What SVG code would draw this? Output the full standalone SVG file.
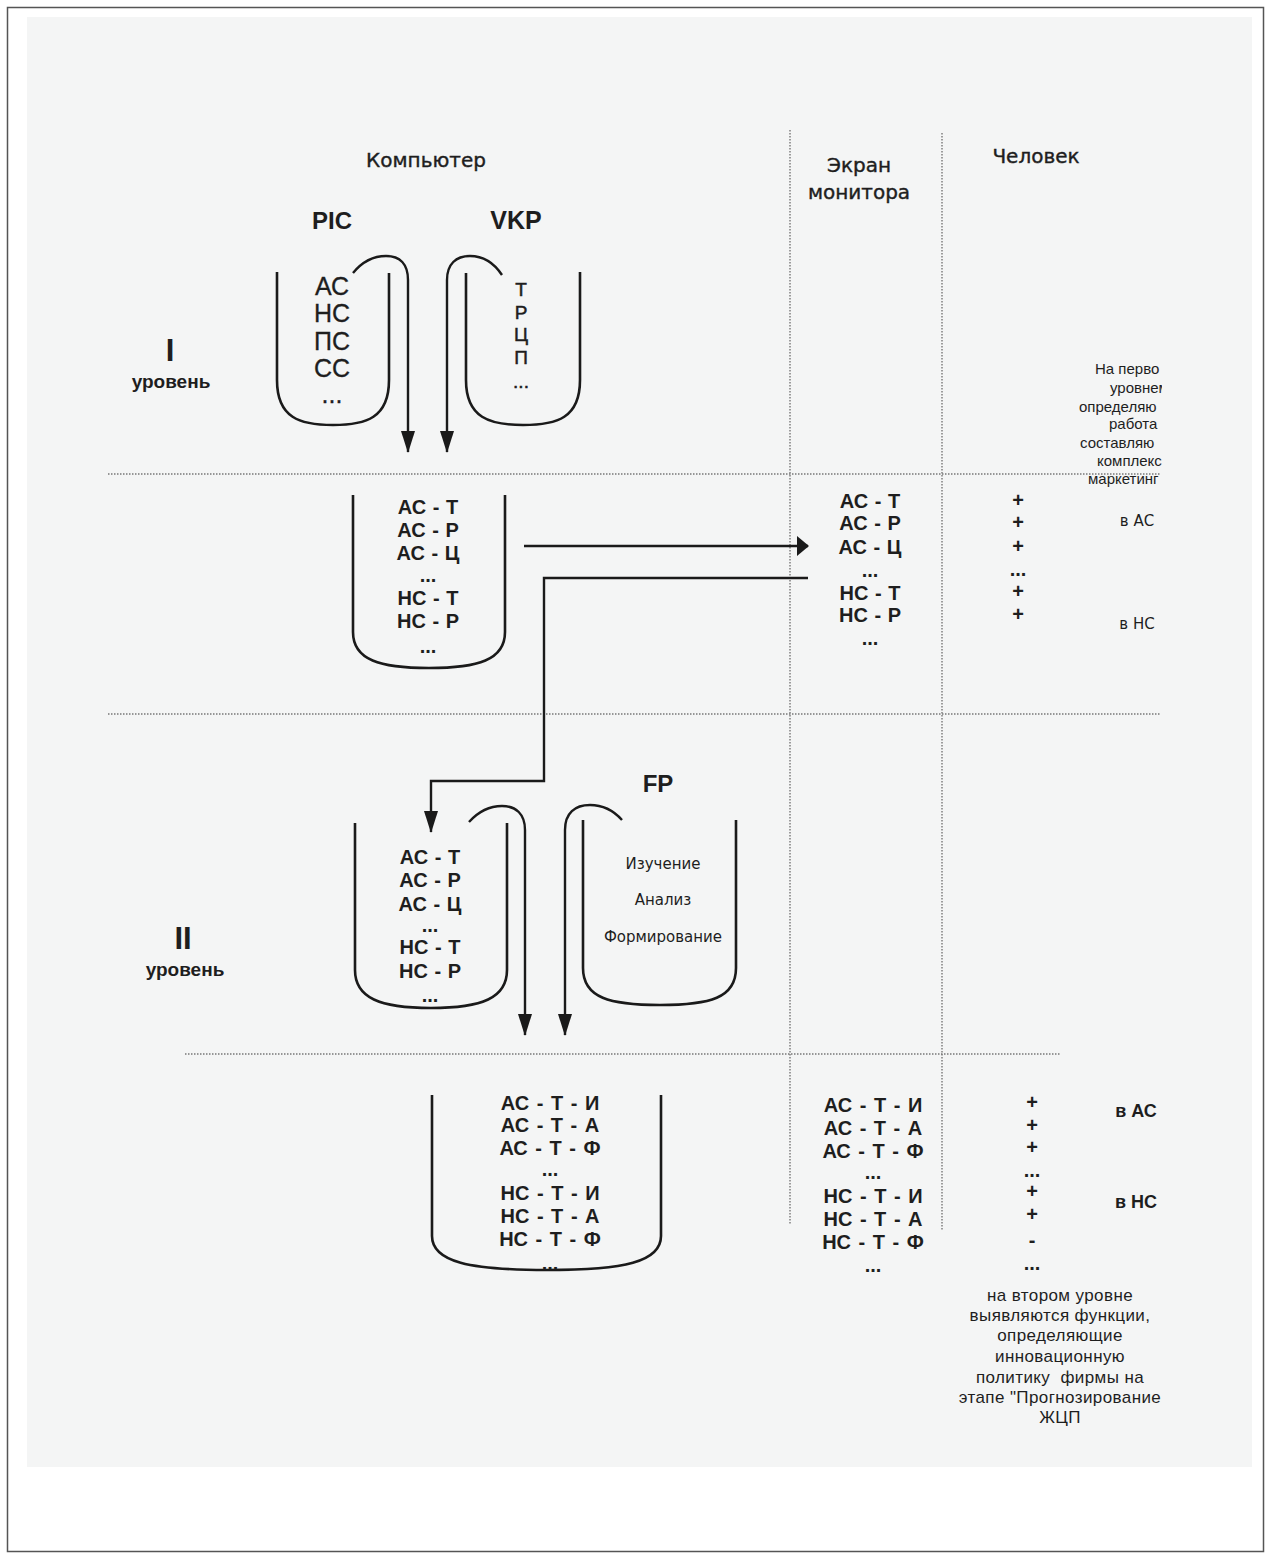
<svg xmlns="http://www.w3.org/2000/svg" width="1271" height="1559" viewBox="0 0 1271 1559">
<defs>
<style>
text{font-family:"Liberation Sans",Arial,sans-serif;fill:#1e1e1e}
.b{font-weight:bold}
.c{text-anchor:middle}
.h{font-family:"DejaVu Sans","Liberation Sans",sans-serif;font-size:20px;stroke:#1e1e1e;stroke-width:0.4}
.dv{font-family:"DejaVu Sans","Liberation Sans",sans-serif}
.cont{fill:none;stroke:#1a1a1a;stroke-width:2.6}
.con{fill:none;stroke:#1a1a1a;stroke-width:2.4}
.dot{fill:none;stroke:#777;stroke-width:1.4;stroke-dasharray:1.5 1.5}
.t20{font-size:25px;stroke:#1e1e1e;stroke-width:0.3}
.tv{font-size:19px;stroke:#1e1e1e;stroke-width:0.5}
.t19{font-size:20px;font-weight:bold;word-spacing:1px}
.t21{font-size:20px;font-weight:bold;word-spacing:2px}
.t15{font-family:"DejaVu Sans","Liberation Sans",sans-serif;font-size:15px}
</style>
<marker id="ah" viewBox="0 0 12 20" refX="11" refY="10" markerWidth="12" markerHeight="20" markerUnits="userSpaceOnUse" orient="auto-start-reverse">
<path d="M0,0 L12,10 L0,20 Z" fill="#1a1a1a"/>
</marker>
<marker id="ad" viewBox="0 0 14 22" refX="7" refY="21" markerWidth="14" markerHeight="22" markerUnits="userSpaceOnUse" orient="0">
<path d="M0,0 L14,0 L7,22 Z" fill="#1a1a1a"/>
</marker>
<clipPath id="clipR"><rect x="1000" y="350" width="162" height="150"/></clipPath>
</defs>
<rect x="0" y="0" width="1271" height="1559" fill="#ffffff"/>
<rect x="7.5" y="7.5" width="1256" height="1544" fill="#ffffff" stroke="#555" stroke-width="1.5"/>
<rect x="27" y="17" width="1225" height="1450" fill="#f4f5f5"/>

<g id="grid">
<path class="dot" d="M790,130 V1225"/>
<path class="dot" d="M942,133 V1230"/>
<path class="dot" d="M108,474 H1160"/>
<path class="dot" d="M108,714 H1160"/>
<path class="dot" d="M185,1054 H1060"/>
</g>

<g id="headers">
<text class="c h" x="426" y="167">Компьютер</text>
<text class="c h" x="859" y="172">Экран</text>
<text class="c h" x="859" y="199">монитора</text>
<text class="c h" x="1036" y="163">Человек</text>
</g>

<g id="level1-label">
<text class="c b" x="170" y="361" font-size="31">I</text>
<text class="c b" x="171" y="388" font-size="19">уровень</text>
</g>

<g id="pic">
<text class="c b" x="332" y="229" font-size="24">PIC</text>
<path class="cont" d="M277,272 V380 C277,418 300,425 333,425 C366,425 389,418 389,380 V273"/>
<text class="c t20" x="332" y="295">АС</text>
<text class="c t20" x="332" y="322">НС</text>
<text class="c t20" x="332" y="350">ПС</text>
<text class="c t20" x="332" y="377">СС</text>
<text class="c t20" x="332" y="403">...</text>
</g>

<g id="vkp">
<text class="c b" x="516" y="229" font-size="25">VKP</text>
<path class="cont" d="M466,273 V380 C466,418 490,425 523,425 C557,425 580,418 580,380 V272"/>
<text class="c tv" x="521" y="296">Т</text>
<text class="c tv" x="521" y="319">Р</text>
<text class="c tv" x="521" y="341">Ц</text>
<text class="c tv" x="521" y="364">П</text>
<text class="c tv" x="521" y="388">...</text>
</g>

<g id="mid1">
<path class="cont" d="M353,495 V632 C353,660 380,668 429,668 C478,668 505,660 505,632 V495"/>
<text class="c t19" x="428" y="514">АС - Т</text>
<text class="c t19" x="428" y="537">АС - Р</text>
<text class="c t19" x="428" y="560">АС - Ц</text>
<text class="c t19" x="428" y="582">...</text>
<text class="c t19" x="428" y="605">НС - Т</text>
<text class="c t19" x="428" y="628">НС - Р</text>
<text class="c t19" x="428" y="653">...</text>
</g>

<g id="screen1">
<text class="c t19" x="870" y="508">АС - Т</text>
<text class="c t19" x="870" y="530">АС - Р</text>
<text class="c t19" x="870" y="554">АС - Ц</text>
<text class="c t19" x="870" y="577">...</text>
<text class="c t19" x="870" y="600">НС - Т</text>
<text class="c t19" x="870" y="622">НС - Р</text>
<text class="c t19" x="870" y="645">...</text>
</g>

<g id="human1">
<text class="c t19" x="1018" y="507">+</text>
<text class="c t19" x="1018" y="529">+</text>
<text class="c t19" x="1018" y="553">+</text>
<text class="c t19" x="1018" y="576">...</text>
<text class="c t19" x="1018" y="598">+</text>
<text class="c t19" x="1018" y="621">+</text>
<g clip-path="url(#clipR)" class="dv" font-size="15">
<text x="1095" y="374">На перво</text>
<text x="1110" y="393">уровнем</text>
<text x="1079" y="412">определяю</text>
<text x="1109" y="429">работа</text>
<text x="1080" y="448">составляю</text>
<text x="1097" y="466">комплекс</text>
<text x="1088" y="484">маркетинг</text>
</g>
<text class="c t15" x="1137" y="526">в АС</text>
<text class="c t15" x="1137" y="629">в НС</text>
</g>

<g id="level2-label">
<text class="c b" x="183" y="949" font-size="31">II</text>
<text class="c b" x="185" y="976" font-size="19">уровень</text>
</g>

<g id="mid2">
<path class="cont" d="M355,823 V970 C355,998 380,1008 431,1008 C482,1008 507,998 507,970 V823"/>
<text class="c t19" x="430" y="864">АС - Т</text>
<text class="c t19" x="430" y="887">АС - Р</text>
<text class="c t19" x="430" y="911">АС - Ц</text>
<text class="c t19" x="430" y="932">...</text>
<text class="c t19" x="430" y="954">НС - Т</text>
<text class="c t19" x="430" y="978">НС - Р</text>
<text class="c t19" x="430" y="1002">...</text>
</g>

<g id="fp">
<text class="c b" x="658" y="792" font-size="24">FP</text>
<path class="cont" d="M583,820 V968 C583,998 610,1005 660,1005 C710,1005 736,998 736,968 V820"/>
<text class="c t15" x="663" y="869">Изучение</text>
<text class="c t15" x="663" y="905">Анализ</text>
<text class="c t15" x="663" y="942">Формирование</text>
</g>

<g id="result">
<path class="cont" d="M432,1095 V1236 C432,1262 470,1270 547,1270 C624,1270 661,1262 661,1236 V1095"/>
<text class="c t21" x="550" y="1110">АС - Т - И</text>
<text class="c t21" x="550" y="1132">АС - Т - А</text>
<text class="c t21" x="550" y="1155">АС - Т - Ф</text>
<text class="c t21" x="550" y="1176">...</text>
<text class="c t21" x="550" y="1200">НС - Т - И</text>
<text class="c t21" x="550" y="1223">НС - Т - А</text>
<text class="c t21" x="550" y="1246">НС - Т - Ф</text>
<text class="c t21" x="550" y="1270">...</text>
</g>

<g id="screen2">
<text class="c t21" x="873" y="1112">АС - Т - И</text>
<text class="c t21" x="873" y="1135">АС - Т - А</text>
<text class="c t21" x="873" y="1158">АС - Т - Ф</text>
<text class="c t21" x="873" y="1179">...</text>
<text class="c t21" x="873" y="1203">НС - Т - И</text>
<text class="c t21" x="873" y="1226">НС - Т - А</text>
<text class="c t21" x="873" y="1249">НС - Т - Ф</text>
<text class="c t21" x="873" y="1272">...</text>
</g>

<g id="human2">
<text class="c t19" x="1032" y="1109">+</text>
<text class="c t19" x="1032" y="1132">+</text>
<text class="c t19" x="1032" y="1154">+</text>
<text class="c t19" x="1032" y="1177">...</text>
<text class="c t19" x="1032" y="1198">+</text>
<text class="c t19" x="1032" y="1221">+</text>
<text class="c t19" x="1032" y="1247">-</text>
<text class="c t19" x="1032" y="1270">...</text>
<text class="c b" x="1136" y="1117" font-size="18">в АС</text>
<text class="c b" x="1136" y="1208" font-size="18">в НС</text>
<g class="dv" font-size="17" letter-spacing="0.4">
<text class="c" x="1060" y="1301">на втором уровне</text>
<text class="c" x="1060" y="1321">выявляются функции,</text>
<text class="c" x="1060" y="1341">определяющие</text>
<text class="c" x="1060" y="1362">инновационную</text>
<text class="c" x="1060" y="1383" xml:space="preserve">политику  фирмы на</text>
<text class="c" x="1060" y="1403">этапе "Прогнозирование</text>
<text class="c" x="1060" y="1423">ЖЦП</text>
</g>
</g>

<g id="connectors">
<path class="con" marker-end="url(#ad)" d="M353,273 C362,262 372,256 386,256 C400,256 408,264 408,280 V452"/>
<path class="con" marker-end="url(#ad)" d="M502,275 C494,263 484,256 470,256 C456,256 447,264 447,280 V452"/>
<path class="con" marker-end="url(#ah)" d="M524,546 H808"/>
<path class="con" marker-end="url(#ad)" d="M808,578 H544 V781 H431 V832"/>
<path class="con" marker-end="url(#ad)" d="M469,822 C478,812 488,806 502,806 C516,806 525,814 525,830 V1035"/>
<path class="con" marker-end="url(#ad)" d="M622,820 C614,811 604,805 590,805 C575,805 565,813 565,830 V1035"/>
</g>
</svg>
